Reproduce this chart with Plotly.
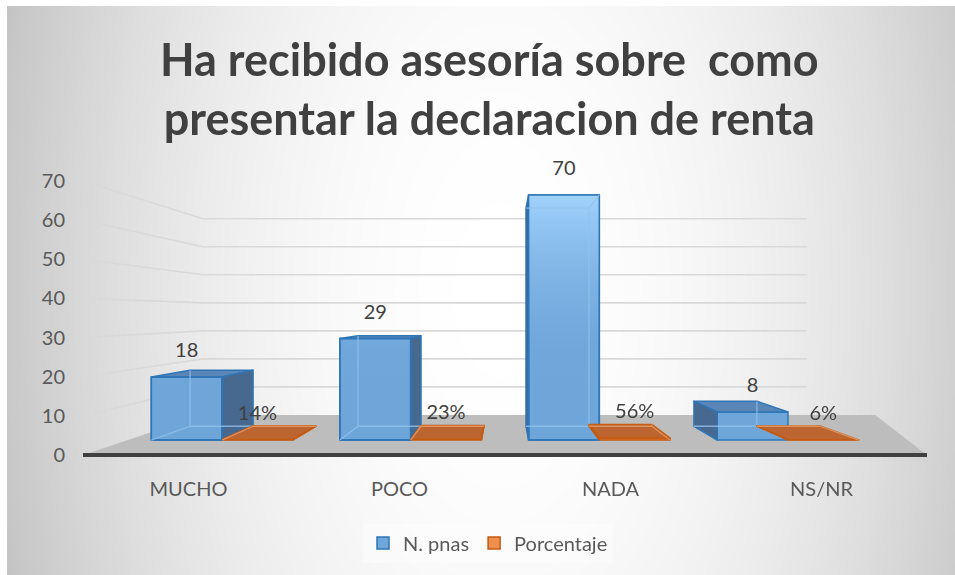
import base64
import struct
import zlib
import plotly.graph_objects as go

# ---------------- data ----------------
categories = ["MUCHO", "POCO", "NADA", "NS/NR"]
n_pnas = [18, 29, 70, 8]
porcentaje = [0.14, 0.23, 0.56, 0.06]
y_ticks = [0, 10, 20, 30, 40, 50, 60, 70]
series_names = ["N. pnas", "Porcentaje"]
title_text = "Ha recibido asesoría sobre  como<br>presentar la declaracion de renta"

# ---------------- geometry (pixels of the 955x575 figure) ----------------
FIG_W, FIG_H = 955, 575
PLOT_L, PLOT_R, PLOT_T, PLOT_B = 83, 927, 150, 470
Y0_PX = 455            # pixel row of value 0 on the front edge
PX_PER_UNIT = 3.915    # pixels per value unit on the front edge
X_RANGE = [-0.5, len(categories) - 0.5]
Y_RANGE = [(Y0_PX - PLOT_B) / PX_PER_UNIT, (Y0_PX - PLOT_T) / PX_PER_UNIT]

# one-point perspective (data units of the front plane)
VP_X = (len(categories) - 1) / 2
VP_Y = (Y0_PX - 314) / PX_PER_UNIT
R_BAR_FRONT = 0.894
R_BAR_BACK = 0.796
R_WALL = 0.716
BAR_W = 0.375
FLOOR_EXT = 0.45
LABEL_OFFSET = 25 / PX_PER_UNIT
# light shading of front faces (value range on the front edge scale)
SHADE_START = (Y0_PX - 385) / PX_PER_UNIT
SHADE_STOP = (Y0_PX - 195) / PX_PER_UNIT

FONT = "Lato, 'Open Sans', sans-serif"
BLUE = dict(front="#6fa6da", top="#5a86b7", side="#48698f", edge="#2e75b6", hidden="#93c2ec",
            shade0="rgba(111,166,218,0)", shade1="rgba(160,210,252,1)")
ORANGE = dict(front="#f0904f", top="#bd6530", side="#a4521f", edge="#c55a11", hidden="#e6a070",
              shade0=None, shade1=None)


def proj(X, v, r):
    return VP_X + (X - VP_X) * r, VP_Y + (v - VP_Y) * r


def px_to_paper_x(px):
    return (px - PLOT_L) / (PLOT_R - PLOT_L)


def px_to_paper_y(py):
    return (PLOT_B - py) / (PLOT_B - PLOT_T)


def gradient_png(w, h, x0, y0):
    rows = []
    for j in range(h):
        py = y0 + (j + 0.5) * (FIG_H - y0) / h
        row = bytearray([0])
        for i in range(w):
            px = x0 + (i + 0.5) * (FIG_W - x0) / w
            d2 = ((px - 500) / 493) ** 2 + ((py - 290) / 930) ** 2
            v = 255 - 54 * d2
            row.append(max(0, min(255, int(round(v)))))
        rows.append(bytes(row))
    raw = b"".join(rows)

    def chunk(t, data):
        c = struct.pack(">I", len(data)) + t + data
        return c + struct.pack(">I", zlib.crc32(t + data) & 0xFFFFFFFF)

    png = (b"\x89PNG\r\n\x1a\n"
           + chunk(b"IHDR", struct.pack(">IIBBBBB", w, h, 8, 0, 0, 0, 0))
           + chunk(b"IDAT", zlib.compress(raw, 9))
           + chunk(b"IEND", b""))
    return "data:image/png;base64," + base64.b64encode(png).decode()


def path_str(points, close=False):
    s = "M " + " L ".join(f"{x:.5f},{y:.5f}" for x, y in points)
    return s + (" Z" if close else "")


fig = go.Figure()
shapes = []

# floor
floor = [proj(X_RANGE[0], 0, 1), proj(X_RANGE[1], 0, 1),
         proj(X_RANGE[1] + FLOOR_EXT, 0, R_WALL), proj(X_RANGE[0], 0, R_WALL)]
shapes.append(dict(type="path", xref="x", yref="y", layer="below",
                   path=path_str(floor, True), fillcolor="#bdbdbd", line=dict(width=0)))

# gridlines on side wall + back wall
for v in y_ticks[1:]:
    pts = [proj(X_RANGE[0], v, 1), proj(X_RANGE[0], v, R_WALL), proj(X_RANGE[1], v, R_WALL)]
    shapes.append(dict(type="path", xref="x", yref="y", layer="below",
                       path=path_str(pts), line=dict(color="#d9d9d9", width=1.6)))

# front edge of floor (axis line)
a = proj(X_RANGE[0], 0, 1)
b = proj(X_RANGE[1], 0, 1)
shapes.append(dict(type="line", xref="x", yref="y", layer="below",
                   x0=a[0], y0=a[1], x1=b[0], y1=b[1], line=dict(color="#404040", width=4)))


def add_series(values, offset, colors, name, labels):
    bx, bw, bbase, by = [], [], [], []
    tx, ty = [], []
    for i, h in enumerate(values):
        X0 = i + offset
        X1 = X0 + BAR_W
        f = lambda X, v: proj(X, v, R_BAR_FRONT)
        k = lambda X, v: proj(X, v, R_BAR_BACK)
        left_vis = X0 > VP_X
        right_vis = X1 < VP_X
        top_vis = h < VP_Y
        # visible depth faces
        faces = []
        if top_vis:
            faces.append(([f(X0, h), f(X1, h), k(X1, h), k(X0, h)], colors["top"]))
        if left_vis:
            faces.append(([f(X0, 0), f(X0, h), k(X0, h), k(X0, 0)], colors["side"]))
        if right_vis:
            faces.append(([f(X1, 0), f(X1, h), k(X1, h), k(X1, 0)], colors["side"]))
        for pts, col in faces:
            pts = pts + [pts[0]]
            fig.add_trace(go.Scatter(x=[p[0] for p in pts], y=[p[1] for p in pts],
                                     mode="lines", fill="toself", fillcolor=col,
                                     line=dict(color=colors["edge"], width=1.5),
                                     hoverinfo="skip", showlegend=False))
        # lighter shading toward the top of tall front faces
        if colors["shade0"] is not None and f(X0, h)[1] > SHADE_START:
            pts = [f(X0, 0), f(X1, 0), f(X1, h), f(X0, h), f(X0, 0)]
            fig.add_trace(go.Scatter(x=[p[0] for p in pts], y=[p[1] for p in pts],
                                     mode="lines", fill="toself",
                                     fillgradient=dict(type="vertical", start=SHADE_START, stop=SHADE_STOP,
                                                       colorscale=[[0, colors["shade0"]], [1, colors["shade1"]]]),
                                     line=dict(color=colors["edge"], width=1.5),
                                     hoverinfo="skip", showlegend=False))
        # hidden edges seen through the translucent box
        hidden = [(k(X0, 0), k(X1, 0))]
        if not left_vis:
            hidden += [(k(X0, 0), k(X0, h)), (f(X0, 0), k(X0, 0))]
        if not right_vis:
            hidden += [(k(X1, 0), k(X1, h)), (f(X1, 0), k(X1, 0))]
        if not top_vis:
            hidden.append((k(X0, h), k(X1, h)))
        if not (top_vis or left_vis):
            hidden.append((f(X0, h), k(X0, h)))
        if not (top_vis or right_vis):
            hidden.append((f(X1, h), k(X1, h)))
        hx, hy = [], []
        for p, q in hidden:
            hx += [p[0], q[0], None]
            hy += [p[1], q[1], None]
        fig.add_trace(go.Scatter(x=hx, y=hy, mode="lines",
                                 line=dict(color=colors["hidden"], width=1.3),
                                 opacity=0.8, hoverinfo="skip", showlegend=False))
        # front face (bar)
        fl, fr = f(X0, 0), f(X1, 0)
        bx.append((fl[0] + fr[0]) / 2)
        bw.append((X1 - X0) * R_BAR_FRONT)
        bbase.append(fl[1])
        by.append(h * R_BAR_FRONT)
        tx.append((fl[0] + fr[0]) / 2)
        ty.append(f(X0, h)[1] + LABEL_OFFSET)
    fig.add_trace(go.Bar(x=bx, y=by, base=bbase, width=bw, name=name,
                         marker=dict(color=colors["front"], line=dict(color=colors["edge"], width=1.5)),
                         hoverinfo="skip"))
    fig.add_trace(go.Scatter(x=tx, y=ty, mode="text", text=labels, textposition="middle center",
                             textfont=dict(family=FONT, size=20, color="#404040"),
                             cliponaxis=False, hoverinfo="skip", showlegend=False))


add_series(n_pnas, -BAR_W, BLUE, series_names[0], [str(v) for v in n_pnas])
add_series(porcentaje, 0.0, ORANGE, series_names[1], [f"{round(v * 100)}%" for v in porcentaje])

BG_X0, BG_Y0 = 7, 6
bg = gradient_png(474, 285, BG_X0, BG_Y0)

fig.update_layout(
    width=FIG_W, height=FIG_H,
    margin=dict(l=PLOT_L, r=FIG_W - PLOT_R, t=PLOT_T, b=FIG_H - PLOT_B, pad=0),
    paper_bgcolor="white", plot_bgcolor="rgba(0,0,0,0)",
    barmode="overlay",
    font=dict(family=FONT, color="#595959"),
    shapes=shapes,
    images=[dict(source=bg, xref="paper", yref="paper", layer="below", sizing="stretch",
                 x=px_to_paper_x(BG_X0), y=px_to_paper_y(BG_Y0),
                 sizex=(FIG_W - BG_X0) / (PLOT_R - PLOT_L), sizey=(FIG_H - BG_Y0) / (PLOT_B - PLOT_T),
                 xanchor="left", yanchor="top")],
    xaxis=dict(range=X_RANGE, tickvals=list(range(len(categories))), ticktext=categories,
               showgrid=False, zeroline=False, showline=False,
               ticks="outside", ticklen=1, tickcolor="rgba(0,0,0,0)",
               tickfont=dict(family=FONT, size=20, color="#595959"), fixedrange=True),
    yaxis=dict(range=Y_RANGE, tickvals=y_ticks, showgrid=False, zeroline=False, showline=False,
               ticks="outside", ticklen=13, tickcolor="rgba(0,0,0,0)",
               tickfont=dict(family=FONT, size=20, color="#595959"), fixedrange=True),
    legend=dict(orientation="h", x=px_to_paper_x(488), xanchor="center",
                y=px_to_paper_y(543), yanchor="middle",
                bgcolor="rgba(255,255,255,0.35)",
                font=dict(family=FONT, size=20, color="#595959")),
    annotations=[dict(text="<b>" + title_text + "</b>", xref="paper", yref="paper",
                      x=px_to_paper_x(489), y=px_to_paper_y(89), xanchor="center", yanchor="middle",
                      showarrow=False, font=dict(family=FONT, size=45, color="#404040"))],
)

fig.write_html("out.html", config={"displayModeBar": False},
               post_script="document.body.style.margin='0px';document.body.style.overflow='hidden';")
